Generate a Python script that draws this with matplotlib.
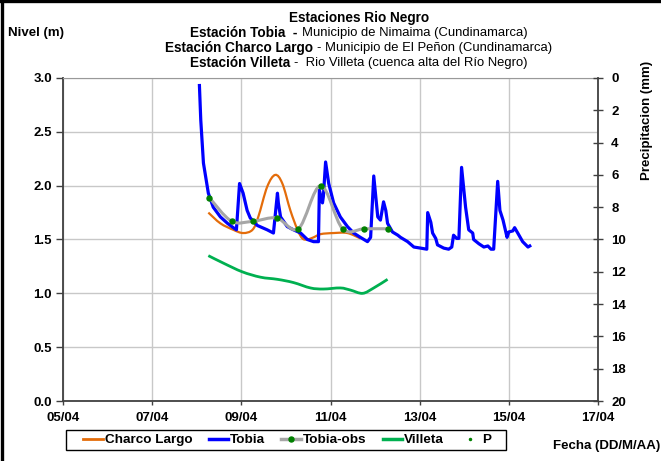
import numpy as np, matplotlib; matplotlib.use('Agg')
import matplotlib.pyplot as plt
from matplotlib.path import Path
from matplotlib.patches import PathPatch, Rectangle
from matplotlib.lines import Line2D
plt.rcParams.update({'font.family':'Liberation Sans','font.size':9.5})

# days of April (05/04 -> 5.0)
tobia_dia=[8.06,8.09,8.15,8.26,8.37,8.53,8.69,8.82,8.89,8.96,9.04,9.13,9.20,9.36,9.58,9.72,9.81,9.83,9.88,
           10.03,10.17,10.33,10.48,10.62,10.73,10.75,10.82,10.84,10.89,10.96,11.07,11.22,11.38,11.52,11.67,
           11.83,11.90,11.97,12.06,12.12,12.19,12.24,12.28,12.39,12.51,12.57,12.73,12.87,13.02,13.16,13.18,
           13.25,13.29,13.36,13.40,13.54,13.65,13.72,13.76,13.83,13.88,13.94,14.03,14.10,14.19,14.21,14.33,
           14.44,14.53,14.60,14.66,14.75,14.80,14.87,14.96,15.00,15.09,15.13,15.20,15.31,15.43,15.47]
tobia_nivel=[2.93,2.61,2.21,1.93,1.80,1.71,1.65,1.61,1.59,2.02,1.93,1.77,1.70,1.63,1.59,1.56,1.93,1.84,1.71,
             1.62,1.59,1.56,1.50,1.48,1.48,1.96,1.84,1.90,2.22,2.02,1.84,1.71,1.62,1.56,1.52,
             1.48,1.52,2.09,1.71,1.68,1.85,1.77,1.65,1.57,1.54,1.52,1.48,1.43,1.42,1.41,1.75,
             1.66,1.56,1.51,1.45,1.42,1.41,1.43,1.54,1.51,1.51,2.17,1.80,1.59,1.56,1.50,1.46,
             1.43,1.44,1.41,1.41,2.04,1.77,1.68,1.52,1.57,1.58,1.61,1.56,1.48,1.43,1.44]
charco_dia=[8.26,8.53,8.82,9.04,9.25,9.38,9.58,9.76,9.92,10.10,10.26,10.37,10.48,10.62,10.78,11.07,11.38,11.67]
charco_nivel=[1.75,1.65,1.59,1.56,1.59,1.71,1.99,2.10,2.02,1.77,1.59,1.51,1.50,1.52,1.55,1.56,1.56,1.51]
obs_dia=[8.28,8.78,9.27,9.79,10.28,10.78,11.27,11.76,12.28]
obs_nivel=[1.89,1.67,1.67,1.70,1.60,2.00,1.60,1.60,1.60]
villeta_dia=[8.26,8.60,9.02,9.43,9.81,10.17,10.55,10.84,11.22,11.45,11.72,11.97,12.28]
villeta_nivel=[1.35,1.28,1.20,1.15,1.13,1.10,1.05,1.04,1.05,1.03,1.00,1.05,1.13]
p_dia=[]; p_mm=[]
xticks=[5,7,9,11,13,15,17]
xlabels=['05/04','07/04','09/04','11/04','13/04','15/04','17/04']

C_OR='#E46C0A'; C_BL='#0000FF'; C_GR='#A6A6A6'; C_VI='#00B050'; C_DOT='#008000'; C_AX='#404040'

def smooth(x,y):
    # excel-like smoothed line: cubic bezier through the points
    n=len(x); v=[(x[0],y[0])]; c=[Path.MOVETO]
    for i in range(n-1):
        a=max(i-1,0); b=min(i+2,n-1)
        v+=[(x[i]+(x[i+1]-x[a])/6,y[i]+(y[i+1]-y[a])/6),(x[i+1]-(x[b]-x[i])/6,y[i+1]-(y[b]-y[i])/6),(x[i+1],y[i+1])]
        c+=[Path.CURVE4]*3
    return Path(v,c)

W,H=661,461
fig=plt.figure(figsize=(W/100,H/100),dpi=100)
ax=fig.add_axes([63/W,(H-401)/H,(598-63)/W,(401-78)/H])
ax.add_patch(PathPatch(smooth(charco_dia,charco_nivel),fill=False,ec=C_OR,lw=1.6,zorder=3))
ax.plot(tobia_dia,tobia_nivel,color=C_BL,lw=2.3,zorder=4,solid_joinstyle='round')
ax.add_patch(PathPatch(smooth(obs_dia,obs_nivel),fill=False,ec=C_GR,lw=2.2,zorder=5))
ax.plot(obs_dia,obs_nivel,ls='none',marker='o',ms=3.6,color=C_DOT,zorder=6)
ax.add_patch(PathPatch(smooth(villeta_dia,villeta_nivel),fill=False,ec=C_VI,lw=2.0,zorder=5))
ax.set_xlim(5,17); ax.set_ylim(0,3)
ax.set_xticks(xticks); ax.set_xticklabels(xlabels,fontweight='bold')
ax.set_yticks(np.arange(0,3.01,0.5)); ax.set_yticklabels([f'{v:.1f}' for v in np.arange(0,3.01,0.5)],fontweight='bold')
ax.grid(True,color='#C8C8C8',lw=1.0); ax.set_axisbelow(True)
ax.tick_params(axis='y',direction='out',length=5,width=1,color=C_AX,pad=3)
ax.tick_params(axis='x',direction='out',length=3,width=1,color=C_AX,pad=5)
for s in ['left','bottom']: ax.spines[s].set_color(C_AX); ax.spines[s].set_linewidth(1.3)
ax.spines['top'].set_color('#999999'); ax.spines['right'].set_visible(False)

ax2=ax.twinx()
ax2.plot(p_dia,p_mm,ls='none',marker='.',ms=3,color=C_DOT)
ax2.set_ylim(20,0); ax2.set_yticks(range(0,21,2)); ax2.set_yticklabels([str(v) for v in range(0,21,2)],fontweight='bold')
ax2.tick_params(axis='y',direction='inout',length=7,width=1,color=C_AX,pad=6)
ax2.spines['right'].set_color(C_AX); ax2.spines['right'].set_linewidth(1.3)
for s in ['left','top','bottom']: ax2.spines[s].set_visible(False)

fig.text(8/W,1-33/H,'Nivel (m)',fontweight='bold',fontsize=9.5,ha='left',va='center')
fig.text(647/W,1-120/H,'Precipitacion (mm)',fontweight='bold',fontsize=9.5,rotation=90,ha='center',va='center')
fig.text(553/W,1-446/H,'Fecha (DD/M/AA)',fontweight='bold',fontsize=9.5,ha='left',va='center')
fig.text(359/W,1-18/H,'Estaciones Rio Negro',fontweight='bold',fontsize=9.8,ha='center',va='center')

rend=fig.canvas.get_renderer()
titulo=[('Estación Tobia  -','Municipio de Nimaima (Cundinamarca)',33,5),
        ('Estación Charco Largo','- Municipio de El Peñon (Cundinamarca)',48,4),
        ('Estación Villeta','-  Rio Villeta (cuenca alta del Río Negro)',63,4)]
for b,n,yp,gap in titulo:
    t1=fig.text(0,1-yp/H,b,fontweight='bold',fontsize=9.8,ha='left',va='center')
    t2=fig.text(0,1-yp/H,n,fontsize=9.4,ha='left',va='center')
    w1=t1.get_window_extent(rend).width; w2=t2.get_window_extent(rend).width
    x0=359-(w1+gap+w2)/2
    t1.set_x(x0/W); t2.set_x((x0+w1+gap)/W)

# legend box drawn separately so its padding matches the reference
fig.add_artist(Rectangle((66/W,1-450/H),440/W,20/H,transform=fig.transFigure,fc='white',ec='black',lw=1.0,zorder=4))
hs=[Line2D([],[],color=C_OR,lw=2),Line2D([],[],color=C_BL,lw=2.5),
    Line2D([],[],color=C_GR,lw=2.5,marker='o',ms=3.6,mfc=C_DOT,mec=C_DOT),
    Line2D([],[],color=C_VI,lw=2.5),Line2D([],[],ls='none',marker='.',ms=3,color=C_DOT)]
lg=fig.legend(hs,['Charco Largo','Tobia','Tobia-obs','Villeta','P'],ncol=5,loc='center',
              bbox_to_anchor=(287/W,1-440/H),bbox_transform=fig.transFigure,frameon=False,
              handlelength=1.45,handletextpad=0.15,columnspacing=1.2,
              borderpad=0.25,numpoints=1,prop={'weight':'bold','size':9.7})
lg.set_zorder(5)

# outer chart border (visible top and left)
fig.add_artist(Line2D([0,1],[1-1.5/H,1-1.5/H],transform=fig.transFigure,color='black',lw=2.4))
fig.add_artist(Line2D([2/W,2/W],[0,1],transform=fig.transFigure,color='black',lw=2.4))
fig.savefig('out.png',dpi=100)
